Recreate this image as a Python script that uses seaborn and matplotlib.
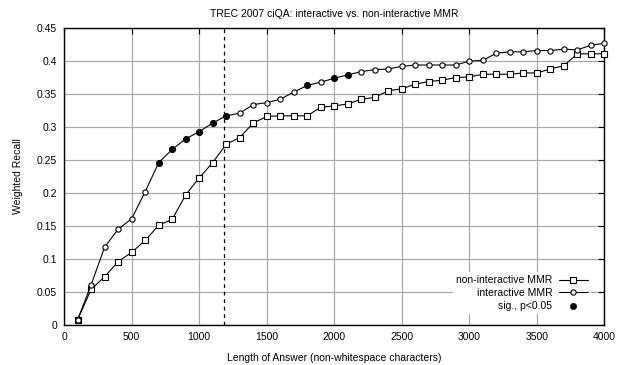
import numpy as np
import matplotlib
matplotlib.use("Agg")
import matplotlib.pyplot as plt
import seaborn as sns
import pandas as pd

# answer length (non-whitespace chars)
LENGTHS = list(range(100, 4100, 100))

NON_INTERACTIVE = [
    0.008, 0.054, 0.073, 0.096, 0.110, 0.128, 0.151, 0.160, 0.197, 0.223,
    0.246, 0.274, 0.284, 0.306, 0.316, 0.317, 0.317, 0.317, 0.330, 0.332,
    0.335, 0.342, 0.345, 0.355, 0.358, 0.365, 0.369, 0.371, 0.375, 0.376,
    0.380, 0.380, 0.380, 0.382, 0.382, 0.388, 0.393, 0.411, 0.411, 0.411,
]
INTERACTIVE = [
    0.008, 0.061, 0.118, 0.145, 0.161, 0.202, 0.246, 0.266, 0.282, 0.293,
    0.306, 0.317, 0.321, 0.334, 0.337, 0.342, 0.353, 0.363, 0.368, 0.374,
    0.379, 0.384, 0.387, 0.388, 0.392, 0.394, 0.394, 0.394, 0.394, 0.400,
    0.401, 0.412, 0.414, 0.414, 0.416, 0.416, 0.418, 0.417, 0.424, 0.427,
]
# lengths where interactive is significantly better
SIG_LENGTHS = [700, 800, 900, 1000, 1100, 1200, 1800, 2000, 2100]
CUTOFF = 1187

df = pd.DataFrame({"length": LENGTHS,
                   "non_interactive": NON_INTERACTIVE,
                   "interactive": INTERACTIVE})
sig_df = df[df["length"].isin(SIG_LENGTHS)]

sns.set_style("white")
plt.rcParams["font.family"] = ["Liberation Sans", "DejaVu Sans"]
plt.rcParams["font.size"] = 7.5
plt.rcParams["text.color"] = "black"
plt.rcParams["axes.labelcolor"] = "black"
plt.rcParams["xtick.color"] = "black"
plt.rcParams["ytick.color"] = "black"

fig = plt.figure(figsize=(6.23, 3.65), dpi=100)
ax = fig.add_axes([0.103, 0.11, 0.867, 0.813])

sns.lineplot(data=df, x="length", y="non_interactive", ax=ax, color="black",
             linewidth=0.8, marker="s", markersize=4, markerfacecolor="white",
             markeredgecolor="black", markeredgewidth=0.8, clip_on=False,
             label="non-interactive MMR", zorder=3)
sns.lineplot(data=df, x="length", y="interactive", ax=ax, color="black",
             linewidth=0.8, marker="o", markersize=3.8, markerfacecolor="white",
             markeredgecolor="black", markeredgewidth=0.8, clip_on=False,
             label="interactive MMR", zorder=3)
sns.scatterplot(data=sig_df, x="length", y="interactive", ax=ax, color="black",
                s=20, edgecolor="black", linewidth=0.5,
                label="sig., p<0.05", zorder=4)

ax.axvline(CUTOFF, color="black", linestyle=(0, (3, 3)), linewidth=0.9, zorder=2)

ax.set_xlim(0, 4000)
ax.set_ylim(0, 0.45)
ax.set_xticks(np.arange(0, 4001, 500))
yt = np.arange(0, 0.451, 0.05)
ax.set_yticks(yt)
ax.set_yticklabels(["0"] + [f"{v:g}" for v in np.round(yt[1:], 2)])
ax.grid(True, color="#a8a8a8", linewidth=0.9)
ax.set_axisbelow(True)
ax.tick_params(direction="in", top=True, right=True, length=4, width=0.8,
               labelsize=7.5, pad=5, colors="black")
for s in ax.spines.values():
    s.set_color("black")
    s.set_linewidth(1.0)

ax.set_title("TREC 2007 ciQA: interactive vs. non-interactive MMR", fontsize=7.5,
             pad=8, color="black")
ax.set_xlabel("Length of Answer (non-whitespace characters)", fontsize=7.5, labelpad=8)
ax.set_ylabel("Weighted Recall", fontsize=7.5, labelpad=10)

leg = ax.legend(loc="lower right", bbox_to_anchor=(0.985, 0.02), markerfirst=False,
                frameon=True, facecolor="white", edgecolor="none", framealpha=1,
                fontsize=7.5, handlelength=2.8, handletextpad=0.6, labelspacing=0.25,
                borderpad=0.3, fancybox=False)
for t in leg.get_texts():
    t.set_color("black")
leg.set_zorder(5)

fig.savefig("out.png", dpi=100)
